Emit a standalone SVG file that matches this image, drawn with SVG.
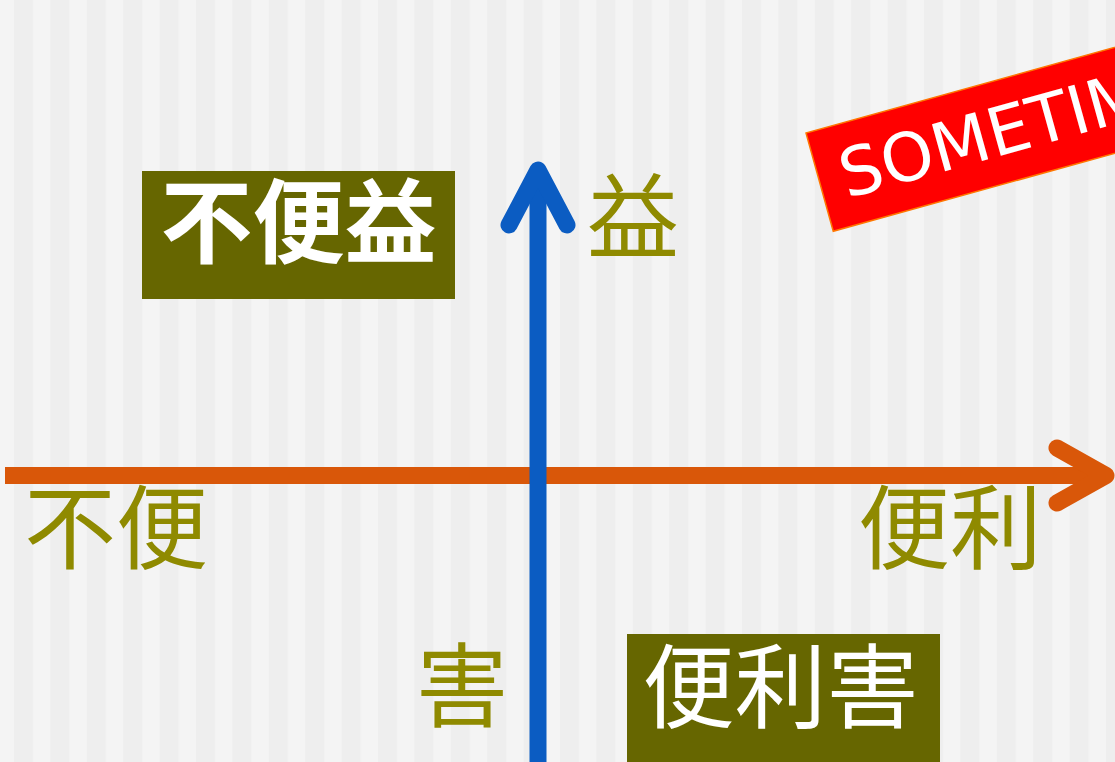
<svg xmlns="http://www.w3.org/2000/svg" width="1115" height="762" viewBox="0 0 1115 762">
<style>
.lbl{font-family:"Noto Sans CJK JP","Noto Sans CJK SC",sans-serif;font-size:92px;fill:#8f8a00}
.box{fill:#666600}
.boxtxt{font-family:"Noto Sans CJK JP","Noto Sans CJK SC",sans-serif;font-size:92px;fill:#ffffff;text-anchor:middle}
.arrow{fill:none;stroke-width:17;stroke-linecap:round;stroke-linejoin:round}
.shaft{fill:none;stroke-width:17;stroke-linecap:butt}
</style>
<defs>
<pattern id="stripes" patternUnits="userSpaceOnUse" x="14" y="0" width="36.4" height="762">
<rect x="0" y="0" width="36.4" height="762" fill="#f4f4f4"/>
<rect x="0" y="0" width="19" height="762" fill="#eeeeee"/>
</pattern>
</defs>
<rect x="0" y="0" width="1115" height="762" fill="url(#stripes)"/>
<g id="connectors">
<g id="axis-x">
<path class="shaft" stroke="#d95709" d="M5,475.5 H1100"/>
<path class="arrow" stroke="#d95709" d="M1057,448 L1106,475.5 L1057,503"/>
</g>
<g id="axis-y">
<path class="shaft" stroke="#0b5cc2" d="M538,770 V176"/>
<path class="arrow" stroke="#0b5cc2" d="M509,225 L538,170 L567,225"/>
</g>
</g>
<g id="label-eki"><text class="lbl" x="587" y="251">益</text></g>
<g id="label-fuben"><text class="lbl" x="24" y="562">不便</text></g>
<g id="label-benri"><text class="lbl" x="858" y="562">便利</text></g>
<g id="label-gai"><text class="lbl" x="416" y="720">害</text></g>
<g id="node-fubeneki">
<rect class="box" x="142" y="171" width="313" height="128"/>
<text class="boxtxt" x="298.5" y="256" font-weight="700">不便益</text>
</g>
<g id="node-benrigai">
<rect class="box" x="627" y="634" width="313" height="130"/>
<text class="boxtxt" x="780.5" y="721">便利害</text>
</g>
<g id="sometimes" transform="translate(806,133) rotate(-15.5)">
<rect x="0" y="0" width="420" height="102" fill="#ff0000" stroke="#ff7700" stroke-width="1.5"/>
<text x="22" y="74" font-family="DejaVu Sans, sans-serif" font-size="67" fill="#ffffff">SOMETIMES</text>
</g>
</svg>
